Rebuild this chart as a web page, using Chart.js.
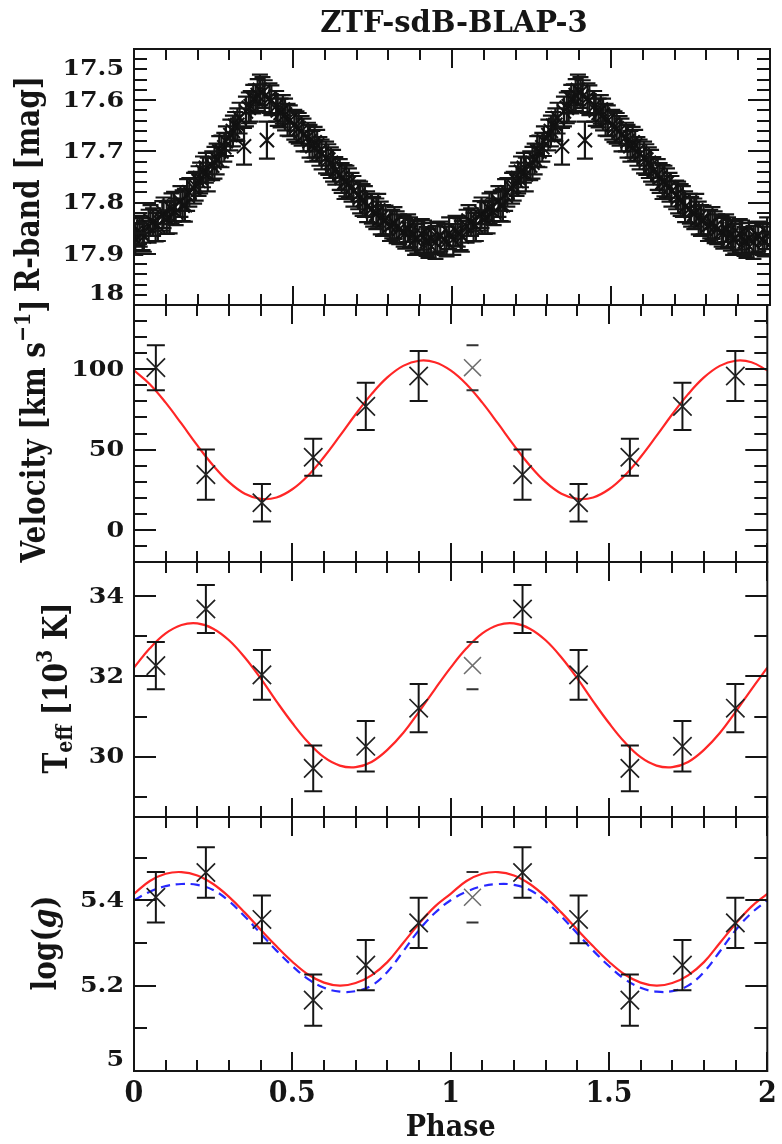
<!DOCTYPE html>
<html>
<head>
<meta charset="utf-8">
<title>ZTF-sdB-BLAP-3</title>
<script src="https://cdn.jsdelivr.net/npm/chart.js@4.4.1/dist/chart.umd.min.js"></script>
<style>
  html, body { margin: 0; padding: 0; background: #ffffff; }
  #wrap { position: relative; width: 782px; height: 1144px; overflow: hidden; background: #ffffff; }
  #wrap canvas { position: absolute; left: 0; top: 0; }
</style>
</head>
<body>
<div id="wrap">
  <canvas id="pR" width="782" height="1144"></canvas>
  <canvas id="pV" width="782" height="1144"></canvas>
  <canvas id="pT" width="782" height="1144"></canvas>
  <canvas id="pG" width="782" height="1144"></canvas>
</div>
<script>
// ---------------------------------------------------------------------------
// Data
// ---------------------------------------------------------------------------

// Shared phase axis
const phaseTickLabels = ['0', '0.5', '1', '1.5', '2'];

// R-band photometry, first set, one folded pulsation cycle
const lcPhase = [
  0.004, 0.018, 0.031, 0.046, 0.060, 0.075, 0.089, 0.103, 0.118, 0.131,
  0.146, 0.160, 0.174, 0.189, 0.203, 0.217, 0.232, 0.246, 0.260, 0.275,
  0.289, 0.303, 0.318, 0.332, 0.346, 0.361, 0.375, 0.389, 0.404, 0.418,
  0.432, 0.447, 0.461, 0.475, 0.490, 0.504, 0.518, 0.533, 0.547, 0.561,
  0.576, 0.590, 0.604, 0.619, 0.633, 0.647, 0.662, 0.676, 0.690, 0.705,
  0.719, 0.733, 0.748, 0.762, 0.776, 0.791, 0.805, 0.819, 0.834, 0.848,
  0.862, 0.877, 0.891, 0.905, 0.920, 0.934, 0.948, 0.963, 0.977, 0.991
];
const lcMag = [
  17.872, 17.858, 17.866, 17.846, 17.838, 17.845, 17.826, 17.830, 17.812, 17.818,
  17.798, 17.805, 17.780, 17.772, 17.758, 17.740, 17.745, 17.728, 17.715, 17.700,
  17.680, 17.668, 17.650, 17.635, 17.690, 17.615, 17.598, 17.590, 17.585, 17.678,
  17.600, 17.612, 17.625, 17.628, 17.640, 17.648, 17.655, 17.668, 17.672, 17.690,
  17.688, 17.706, 17.712, 17.722, 17.738, 17.745, 17.760, 17.762, 17.778, 17.785,
  17.795, 17.808, 17.812, 17.822, 17.830, 17.834, 17.845, 17.840, 17.852, 17.856,
  17.850, 17.864, 17.868, 17.862, 17.876, 17.870, 17.878, 17.866, 17.872, 17.860
];
const lcErr = [
  0.030, 0.028, 0.030, 0.032, 0.027, 0.030, 0.029, 0.031, 0.030, 0.026,
  0.030, 0.032, 0.028, 0.030, 0.029, 0.030, 0.033, 0.028, 0.030, 0.031,
  0.029, 0.030, 0.027, 0.030, 0.036, 0.030, 0.028, 0.031, 0.030, 0.036,
  0.029, 0.030, 0.028, 0.031, 0.030, 0.029, 0.030, 0.032, 0.028, 0.030,
  0.030, 0.029, 0.031, 0.030, 0.027, 0.030, 0.033, 0.029, 0.030, 0.028,
  0.031, 0.030, 0.029, 0.030, 0.032, 0.028, 0.030, 0.031, 0.029, 0.030,
  0.027, 0.030, 0.031, 0.030, 0.028, 0.030, 0.032, 0.029, 0.030, 0.031
];

// R-band photometry, second set, same folding
const lcPhaseB = [
  0.011, 0.027, 0.052, 0.068, 0.093, 0.112, 0.126, 0.153, 0.167, 0.194,
  0.208, 0.226, 0.253, 0.268, 0.284, 0.311, 0.325, 0.352, 0.367, 0.383,
  0.396, 0.411, 0.426, 0.452, 0.468, 0.483, 0.511, 0.527, 0.552, 0.568,
  0.583, 0.611, 0.626, 0.653, 0.668, 0.684, 0.711, 0.726, 0.752, 0.768,
  0.783, 0.812, 0.826, 0.853, 0.868, 0.884, 0.912, 0.926, 0.954, 0.983
];
const lcMagB = [
  17.855, 17.862, 17.835, 17.848, 17.820, 17.828, 17.808, 17.806, 17.785, 17.768,
  17.752, 17.732, 17.722, 17.700, 17.692, 17.660, 17.648, 17.622, 17.612, 17.596,
  17.580, 17.592, 17.596, 17.620, 17.618, 17.638, 17.652, 17.660, 17.680, 17.682,
  17.700, 17.716, 17.728, 17.752, 17.758, 17.770, 17.790, 17.798, 17.818, 17.815,
  17.835, 17.842, 17.848, 17.860, 17.858, 17.872, 17.866, 17.880, 17.868, 17.876
];
const lcErrB = [
  0.029, 0.031, 0.030, 0.028, 0.030, 0.032, 0.029, 0.030, 0.031, 0.028,
  0.030, 0.029, 0.031, 0.030, 0.028, 0.030, 0.032, 0.029, 0.030, 0.027,
  0.030, 0.031, 0.029, 0.030, 0.028, 0.031, 0.030, 0.029, 0.032, 0.030,
  0.028, 0.030, 0.031, 0.029, 0.030, 0.028, 0.031, 0.030, 0.029, 0.032,
  0.030, 0.028, 0.031, 0.030, 0.029, 0.030, 0.031, 0.028, 0.030, 0.029
];

// Phase-resolved spectroscopy: phase of each spectrum and the fitted quantities
const specPhase = [0.069, 0.227, 0.404, 0.566, 0.732, 0.899];
const rvValue   = [101, 34.4, 16.9, 45.2, 76.9, 95.8];   // km/s
const rvErr     = [14, 15.6, 11.7, 11.5, 14.7, 15.6];
const teffValue = [32.27, 33.68, 32.04, 29.71, 30.26, 31.21]; // 10^3 K
const teffErr   = [0.59, 0.60, 0.62, 0.57, 0.63, 0.60];
const loggValue = [5.407, 5.465, 5.355, 5.166, 5.248, 5.347];
const loggErr   = [0.059, 0.059, 0.056, 0.060, 0.059, 0.059];

// Model curves over one cycle
const modelPhase   = [0, 0.05, 0.10, 0.15, 0.20, 0.25, 0.30, 0.35, 0.40, 0.45, 0.50,
                      0.55, 0.60, 0.65, 0.70, 0.75, 0.80, 0.85, 0.90, 0.95, 1.00];
const rvModel      = [99.3, 90.7, 79.2, 66.1, 52.6, 40.1, 29.7, 22.5, 19.3, 20.2, 25.3,
                      33.9, 45.4, 58.5, 72.0, 84.5, 94.9, 102.1, 105.3, 104.4, 99.3];
const teffModel    = [32.22, 32.70, 33.07, 33.28, 33.32, 33.19, 32.90, 32.47, 31.95, 31.38, 30.84,
                      30.36, 29.99, 29.78, 29.74, 29.87, 30.17, 30.59, 31.12, 31.68, 32.22];
const loggModel    = [5.415, 5.445, 5.462, 5.466, 5.458, 5.438, 5.408, 5.371, 5.331, 5.292, 5.256,
                      5.226, 5.207, 5.200, 5.206, 5.224, 5.255, 5.300, 5.345, 5.385, 5.415];
const loggModelAlt = [5.400, 5.420, 5.433, 5.438, 5.436, 5.424, 5.398, 5.362, 5.322, 5.282, 5.246,
                      5.215, 5.195, 5.186, 5.187, 5.200, 5.232, 5.280, 5.330, 5.370, 5.400];

// Labelled y ticks of each panel
const magTickLabels  = ['17.5', '17.6', '17.7', '17.8', '17.9', '18'];
const rvTickLabels   = ['0', '50', '100'];
const teffTickLabels = ['30', '32', '34'];
const loggTickLabels = ['5', '5.2', '5.4'];

// ---------------------------------------------------------------------------
// Helpers that lay the folded data out over two cycles
// ---------------------------------------------------------------------------
function twoCycles(phases, values) {
  return [
    ...phases.map((p, i) => ({ x: p, y: values[i] })),
    ...phases.map((p, i) => ({ x: p + 1, y: values[i] }))
  ];
}
function modelTwoCycles(values) {
  return [
    ...modelPhase.map((p, i) => ({ x: p, y: values[i] })),
    ...modelPhase.slice(1).map((p, i) => ({ x: p + 1, y: values[i + 1] }))
  ];
}
// first cycle complete, second cycle without its first epoch (that one is drawn faded)
function specPoints(values) {
  return [
    ...specPhase.map((p, i) => ({ x: p, y: values[i] })),
    ...specPhase.slice(1).map((p, i) => ({ x: p + 1, y: values[i + 1] }))
  ];
}
function specErrors(errs) { return [...errs, ...errs.slice(1)]; }

// ---------------------------------------------------------------------------
// Styling and layout
// ---------------------------------------------------------------------------
const W = 782, H = 1144;
const PLOT_LEFT = 134, PLOT_RIGHT = 774;
const INK = '#151515';
const SERIF = '"DejaVu Serif", "Liberation Serif", serif';
const RED = 'rgb(255, 38, 38)';
const BLUE = 'rgb(40, 40, 255)';

const PANELS = {
  pR: { top: 49,  bottom: 305,  min: 17.5, max: 18.0, reverse: true, minor: 0.02, major: 0.1,
        labels: magTickLabels, titleAt: [30, 184],
        title: [{ t: 'R-band [mag]' }] },
  pV: { top: 305, bottom: 562,  min: -20, max: 140, minor: 10, major: 50,
        labels: rvTickLabels, titleAt: [36, 431],
        title: [{ t: 'Velocity [km s' }, { t: '\u22121', sup: true }, { t: ']' }] },
  pT: { top: 562, bottom: 817,  min: 28.5, max: 34.85, minor: 1, major: 2,
        labels: teffTickLabels, titleAt: [58, 688],
        title: [{ t: 'T' }, { t: 'eff', sub: true }, { t: ' [10' }, { t: '3', sup: true }, { t: ' K]' }] },
  pG: { top: 817, bottom: 1071, min: 5.0, max: 5.595, minor: 0.1, major: 0.2,
        labels: loggTickLabels, titleAt: [47, 943], phaseAxis: true,
        title: [{ t: 'log(' }, { t: 'g', italic: true }, { t: ')' }] }
};

function onStep(v, step) {
  const q = v / step;
  return Math.abs(q - Math.round(q)) < 1e-6;
}

// Text with optional sub/superscript pieces; sx stretches the glyphs horizontally
function richText(ctx, segs, cx, cy, o) {
  ctx.save();
  ctx.translate(cx, cy);
  ctx.scale(o.sx || 1, 1);
  if (o.rotate) ctx.rotate(-Math.PI / 2);
  ctx.fillStyle = INK;
  ctx.textBaseline = 'middle';
  ctx.textAlign = 'left';
  const parts = segs.map(s => {
    const size = o.size * ((s.sub || s.sup) ? 0.68 : 1);
    const font = (s.italic ? 'italic ' : '') + 'bold ' + size + 'px ' + SERIF;
    ctx.font = font;
    return { t: s.t, font, w: ctx.measureText(s.t).width,
             dy: s.sub ? 0.26 * o.size : (s.sup ? -0.36 * o.size : 0) };
  });
  const total = parts.reduce((a, p) => a + p.w, 0);
  let x = o.align === 'right' ? -total : -total / 2;
  for (const p of parts) {
    ctx.font = p.font;
    ctx.fillText(p.t, x, p.dy);
    x += p.w;
  }
  ctx.restore();
}

// Error bars, drawn just before the markers of their dataset
const errorBars = {
  id: 'errorBars',
  beforeDatasetDraw(chart, args) {
    const ds = chart.data.datasets[args.index];
    const eb = ds.errorBars;
    if (!eb) return;
    const { ctx, chartArea: a } = chart;
    const xs = chart.scales.x, ys = chart.scales.y;
    ctx.save();
    ctx.beginPath();
    ctx.rect(a.left, a.top, a.right - a.left, a.bottom - a.top);
    ctx.clip();
    ctx.strokeStyle = eb.color;
    ctx.lineWidth = eb.width;
    ctx.lineCap = 'butt';
    ds.data.forEach((p, i) => {
      const e = eb.values[i];
      const px = xs.getPixelForValue(p.x);
      const y0 = ys.getPixelForValue(p.y - e);
      const y1 = ys.getPixelForValue(p.y + e);
      ctx.beginPath();
      if (eb.stem !== false) { ctx.moveTo(px, y0); ctx.lineTo(px, y1); }
      ctx.moveTo(px - eb.cap, y0); ctx.lineTo(px + eb.cap, y0);
      ctx.moveTo(px - eb.cap, y1); ctx.lineTo(px + eb.cap, y1);
      ctx.stroke();
    });
    ctx.restore();
  }
};

// Boxed panel with inward ticks on all four sides, tick labels and axis titles
const panelAxes = {
  id: 'panelAxes',
  afterDraw(chart) {
    const cfg = PANELS[chart.canvas.id];
    const { ctx, chartArea: a } = chart;
    const xs = chart.scales.x, ys = chart.scales.y;
    ctx.save();
    ctx.strokeStyle = INK;
    ctx.lineWidth = 2;
    ctx.lineCap = 'butt';
    ctx.beginPath();
    for (const t of xs.ticks) {
      if (!onStep(t.value, 0.1)) continue;
      const px = Math.round(xs.getPixelForValue(t.value));
      const len = onStep(t.value, 0.5) ? 19 : 11;
      ctx.moveTo(px, a.bottom); ctx.lineTo(px, a.bottom - len);
      ctx.moveTo(px, a.top);    ctx.lineTo(px, a.top + len);
    }
    for (const t of ys.ticks) {
      if (!onStep(t.value, cfg.minor)) continue;
      const py = Math.round(ys.getPixelForValue(t.value));
      const len = onStep(t.value, cfg.major) ? 22 : 13;
      ctx.moveTo(a.left, py);  ctx.lineTo(a.left + len, py);
      ctx.moveTo(a.right, py); ctx.lineTo(a.right - len, py);
    }
    ctx.stroke();
    ctx.strokeRect(a.left, a.top, a.right - a.left, a.bottom - a.top);
    ctx.restore();

    // y tick labels, pulled inside the panel at its edges
    for (const lab of cfg.labels) {
      let py = ys.getPixelForValue(parseFloat(lab));
      py = Math.min(Math.max(py, a.top + 19), a.bottom - 12);
      richText(ctx, [{ t: lab }], a.left - 10, py + 1, { size: 22, sx: 1.15, align: 'right' });
    }
    // y axis title
    richText(ctx, cfg.title, cfg.titleAt[0], cfg.titleAt[1], { size: 28, sx: 1.18, rotate: true });

    // shared phase axis under the last panel
    if (cfg.phaseAxis) {
      for (const lab of phaseTickLabels) {
        const px = xs.getPixelForValue(parseFloat(lab));
        richText(ctx, [{ t: lab }], px, a.bottom + 23, { size: 29, sx: 0.93 });
      }
      richText(ctx, [{ t: 'Phase' }], (a.left + a.right) / 2, a.bottom + 57, { size: 30, sx: 0.9 });
    }
  }
};

// ---------------------------------------------------------------------------
// Dataset builders
// ---------------------------------------------------------------------------
function modelLine(values, color, dash, order) {
  return {
    type: 'line', data: modelTwoCycles(values), borderColor: color, borderWidth: 2.2,
    borderDash: dash || [], pointRadius: 0, pointHoverRadius: 0, tension: 0.4,
    fill: false, order: order
  };
}
function specSet(values, errs) {
  return {
    data: specPoints(values), pointStyle: 'crossRot', pointRadius: 13, pointHoverRadius: 13,
    pointBorderColor: '#222', pointBorderWidth: 1.7, showLine: false, order: 0,
    errorBars: { values: specErrors(errs), cap: 9, width: 2, color: INK }
  };
}
function fadedSpecSet(values, errs) {
  return {
    data: [{ x: specPhase[0] + 1, y: values[0] }], pointStyle: 'crossRot', pointRadius: 12,
    pointHoverRadius: 12, pointBorderColor: '#6e6e6e', pointBorderWidth: 1.5, showLine: false, order: 1,
    errorBars: { values: [errs[0]], cap: 6, width: 2, color: '#333', stem: false }
  };
}
function photometrySet(phases, mags, errs, order) {
  return {
    data: twoCycles(phases, mags), pointStyle: 'crossRot', pointRadius: 10, pointHoverRadius: 10,
    pointBorderColor: '#111', pointBorderWidth: 2, showLine: false, order: order,
    errorBars: { values: [...errs, ...errs], cap: 8, width: 2.2, color: INK }
  };
}

function makePanel(id, datasets, title) {
  const cfg = PANELS[id];
  const topPad = title ? 0 : cfg.top;
  return new Chart(document.getElementById(id), {
    type: 'scatter',
    data: { datasets: datasets },
    options: {
      responsive: false,
      animation: false,
      devicePixelRatio: 1,
      layout: { padding: { left: PLOT_LEFT, right: W - PLOT_RIGHT, top: topPad, bottom: H - cfg.bottom } },
      scales: {
        x: { type: 'linear', display: false, min: 0, max: 2,
             ticks: { stepSize: 0.1, autoSkip: false, display: false } },
        y: { type: 'linear', display: false, min: cfg.min, max: cfg.max, reverse: !!cfg.reverse,
             ticks: { stepSize: cfg.minor, autoSkip: false, display: false } }
      },
      plugins: {
        legend: { display: false },
        tooltip: { enabled: false },
        title: title || { display: false }
      }
    },
    plugins: [errorBars, panelAxes]
  });
}

// ---------------------------------------------------------------------------
// Panels
// ---------------------------------------------------------------------------
makePanel('pR', [
  photometrySet(lcPhase, lcMag, lcErr, 0),
  photometrySet(lcPhaseB, lcMagB, lcErrB, 1)
], {
  display: true, text: 'ZTF-sdB-BLAP-3', color: INK,
  font: { family: SERIF, size: 29, weight: 'bold', lineHeight: 1.2 },
  padding: { top: 7, bottom: 7.2 }
});

makePanel('pV', [
  modelLine(rvModel, RED, null, 5),
  fadedSpecSet(rvValue, rvErr),
  specSet(rvValue, rvErr)
]);

makePanel('pT', [
  modelLine(teffModel, RED, null, 5),
  fadedSpecSet(teffValue, teffErr),
  specSet(teffValue, teffErr)
]);

makePanel('pG', [
  modelLine(loggModel, RED, null, 5),
  modelLine(loggModelAlt, BLUE, [9, 6], 4),
  fadedSpecSet(loggValue, loggErr),
  specSet(loggValue, loggErr)
]);
</script>
</body>
</html>
